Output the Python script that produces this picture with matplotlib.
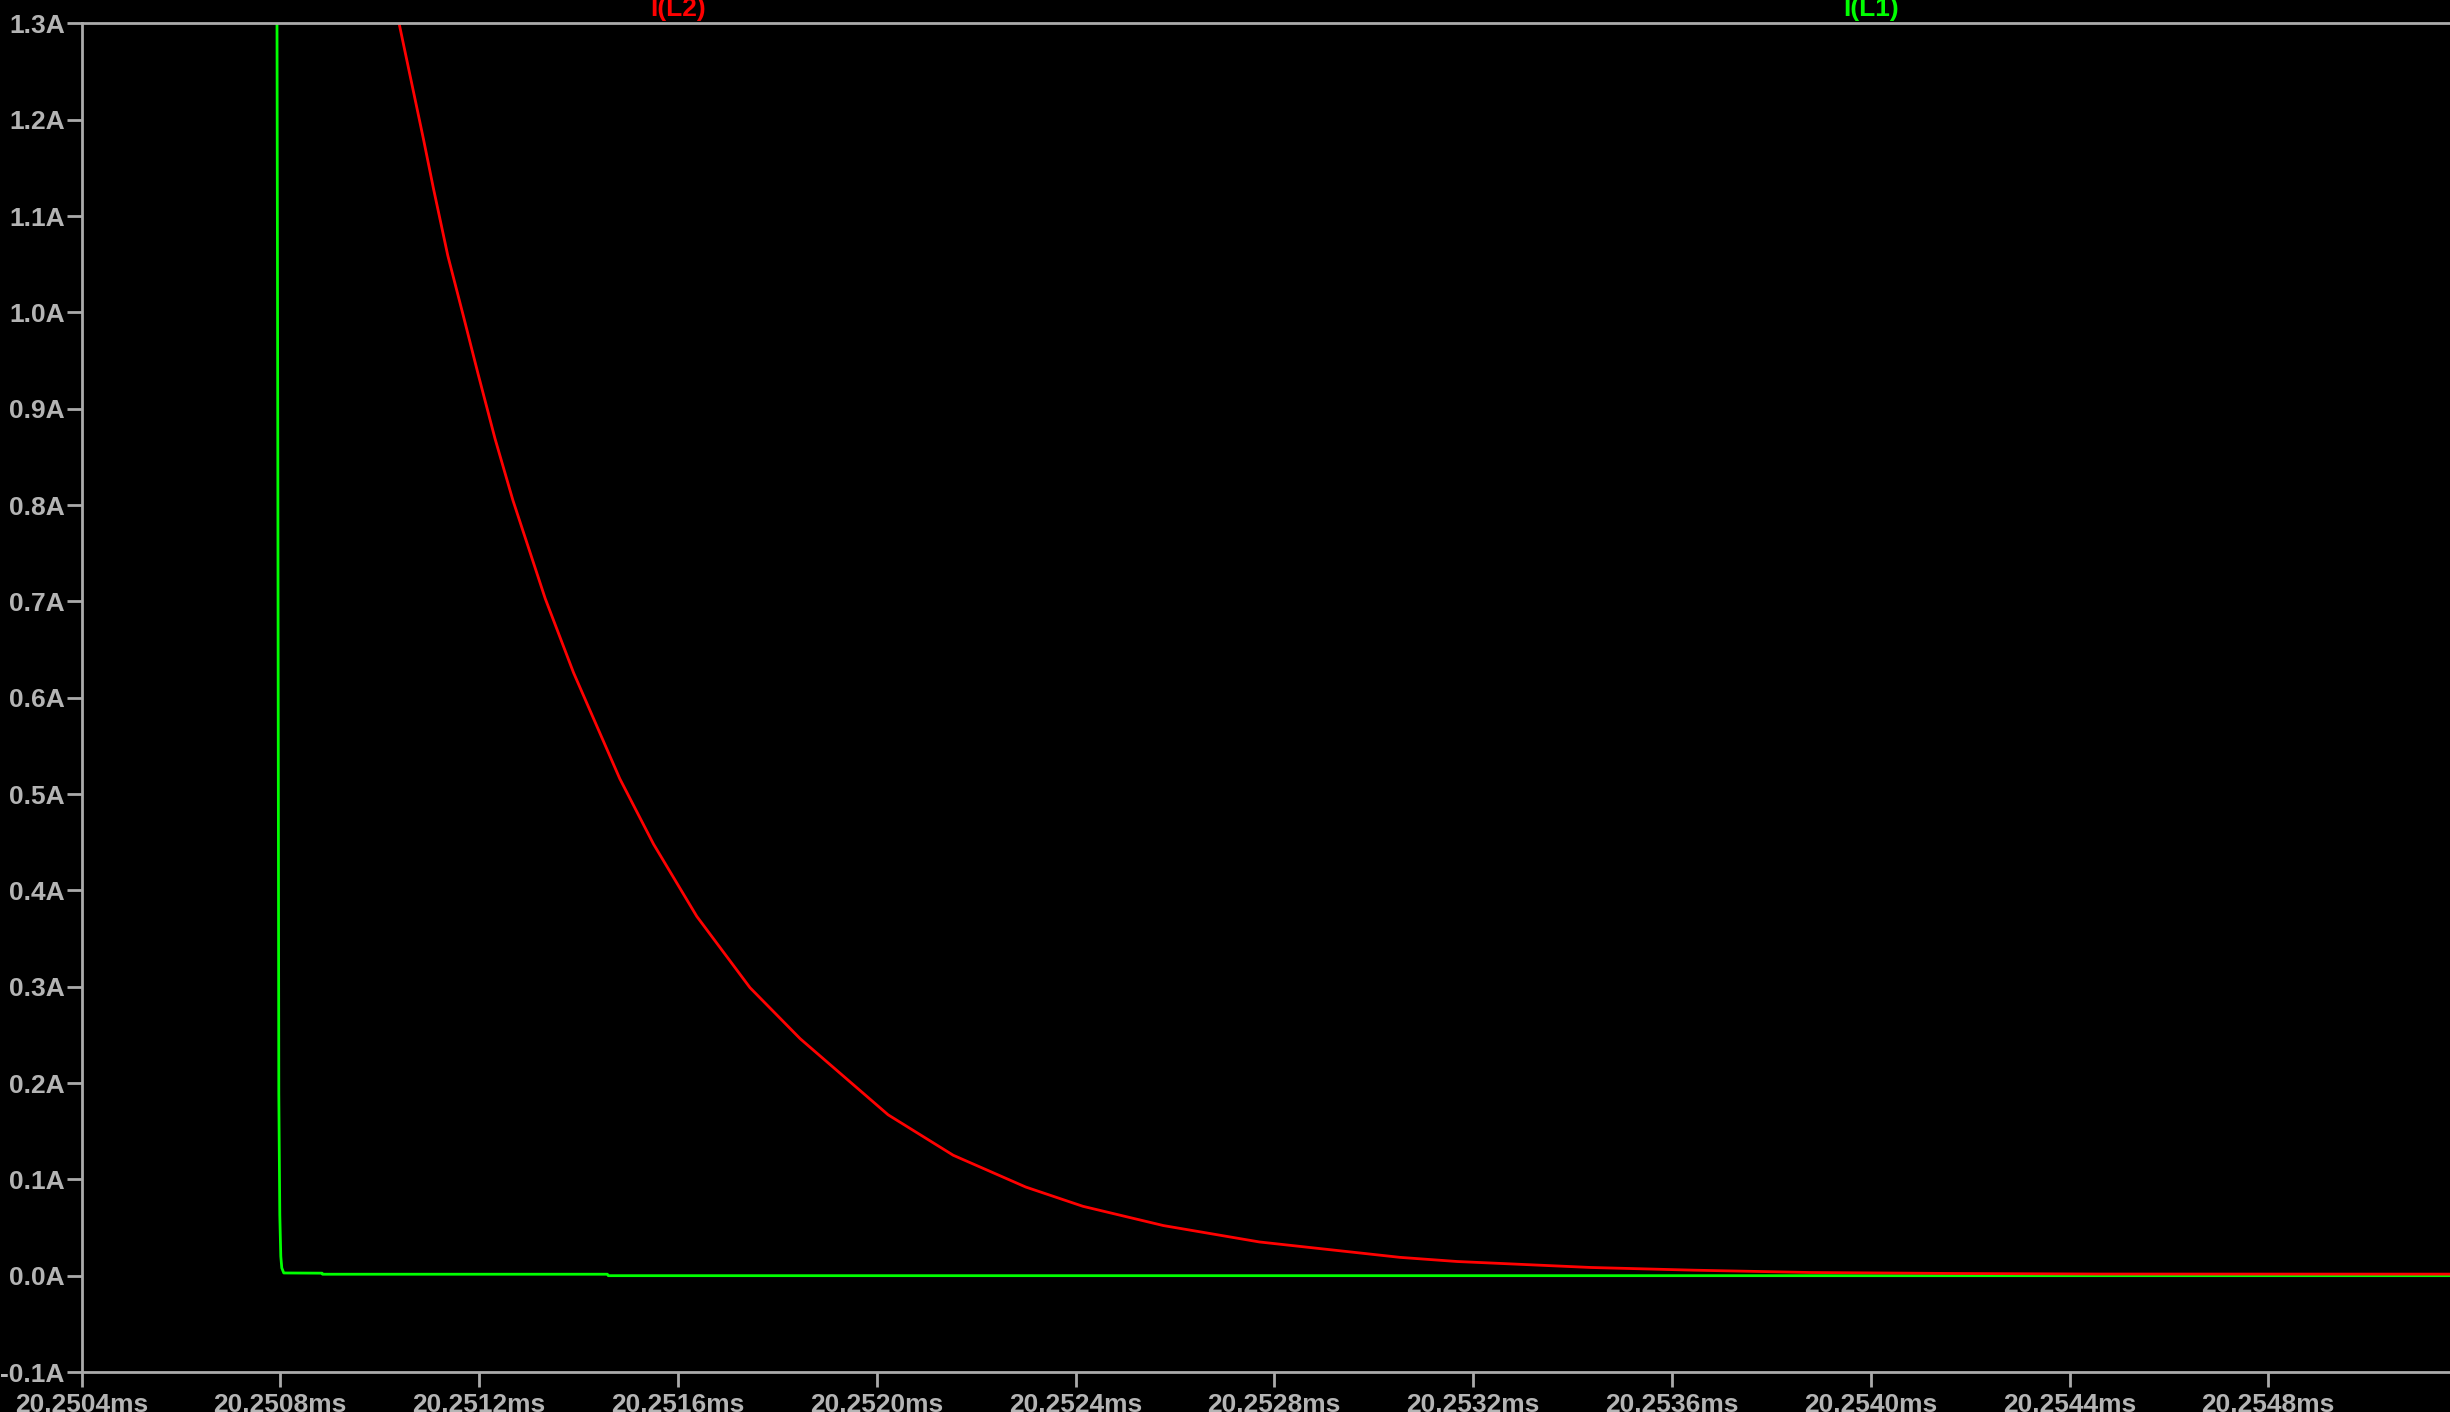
import matplotlib
matplotlib.use("Agg")
import matplotlib.pyplot as plt
import matplotlib.transforms as mtransforms

# ---- data (time in ms, current in A) ----
l1_time = [20.250793, 20.250795, 20.250797, 20.250799, 20.250801, 20.250803,
           20.250807, 20.250884, 20.250885, 20.251458, 20.251460, 20.2552]
l1_curr = [1.40, 0.853, 0.189, 0.063, 0.020, 0.008,
           0.0028, 0.0026, 0.0015, 0.0015, 0.0, 0.0]

l2_time = [20.251020, 20.251039, 20.251088, 20.251108, 20.251137, 20.251168,
           20.251198, 20.251232, 20.251268, 20.251333, 20.251390, 20.251483,
           20.251551, 20.251638, 20.251745, 20.251846, 20.252023, 20.252154,
           20.252300, 20.252415, 20.252577, 20.252770, 20.253053, 20.253168,
           20.253437, 20.253644, 20.253876, 20.254160, 20.254460, 20.2552]
l2_curr = [1.347, 1.300, 1.180, 1.129, 1.059, 0.997,
           0.936, 0.869, 0.805, 0.703, 0.626, 0.516,
           0.448, 0.373, 0.299, 0.246, 0.167, 0.125,
           0.092, 0.072, 0.052, 0.035, 0.019, 0.0147,
           0.0085, 0.0057, 0.0033, 0.0023, 0.0017, 0.0016]

x_ticks = [20.2504, 20.2508, 20.2512, 20.2516, 20.2520, 20.2524,
           20.2528, 20.2532, 20.2536, 20.2540, 20.2544, 20.2548]
x_labels = ["20.2504ms", "20.2508ms", "20.2512ms", "20.2516ms", "20.2520ms",
            "20.2524ms", "20.2528ms", "20.2532ms", "20.2536ms", "20.2540ms",
            "20.2544ms", "20.2548ms"]
y_ticks = [-0.1, 0.0, 0.1, 0.2, 0.3, 0.4, 0.5, 0.6, 0.7, 0.8, 0.9, 1.0,
           1.1, 1.2, 1.3]
y_labels = ["-0.1A", "0.0A", "0.1A", "0.2A", "0.3A", "0.4A", "0.5A", "0.6A",
            "0.7A", "0.8A", "0.9A", "1.0A", "1.1A", "1.2A", "1.3A"]

trace_names = ["I(L2)", "I(L1)"]
trace_label_x = [20.2516, 20.2540]
trace_colors = ["#ff0000", "#00ff00"]

# ---- style ----
W, H = 2450, 1412
DPI = 100
axis_col = "#ababab"
text_col = "#b4b4b4"
font = "Liberation Sans"

fig = plt.figure(figsize=(W / DPI, H / DPI), dpi=DPI, facecolor="black")
left = 81.5 / W
bottom = (H - 1372) / H
top = (H - 23.4) / H
ax = fig.add_axes([left, bottom, 1.0 - left, top - bottom], facecolor="black")

ax.plot(l1_time, l1_curr, color=trace_colors[1], lw=2.0)
ax.plot(l2_time, l2_curr, color=trace_colors[0], lw=2.0)

ax.set_xlim(20.2504, 20.2504 + (W - 81.5) / 198.8 * 0.0004)
ax.set_ylim(-0.1, 1.3)

ax.set_xticks(x_ticks)
ax.set_xticklabels(x_labels)
ax.set_yticks(y_ticks)
ax.set_yticklabels(y_labels)

for s in ["left", "bottom", "top"]:
    ax.spines[s].set_color(axis_col)
    ax.spines[s].set_linewidth(2.0)
ax.spines["right"].set_visible(False)

ax.tick_params(axis="both", colors=axis_col, width=2.0, length=11,
               direction="out", labelcolor=text_col, labelsize=19)
ax.tick_params(axis="y", pad=1)
ax.tick_params(axis="x", pad=4)
for lab in ax.get_xticklabels() + ax.get_yticklabels():
    lab.set_fontfamily(font)
    lab.set_fontweight("bold")

trans = mtransforms.blended_transform_factory(ax.transData, ax.transAxes)
for name, xp, col in zip(trace_names, trace_label_x, trace_colors):
    ax.text(xp, 1.0052, name, transform=trans, color=col, fontsize=19,
            fontweight="bold", fontfamily=font, ha="center", va="baseline",
            clip_on=False)

fig.savefig("out.png", dpi=DPI, facecolor="black")
